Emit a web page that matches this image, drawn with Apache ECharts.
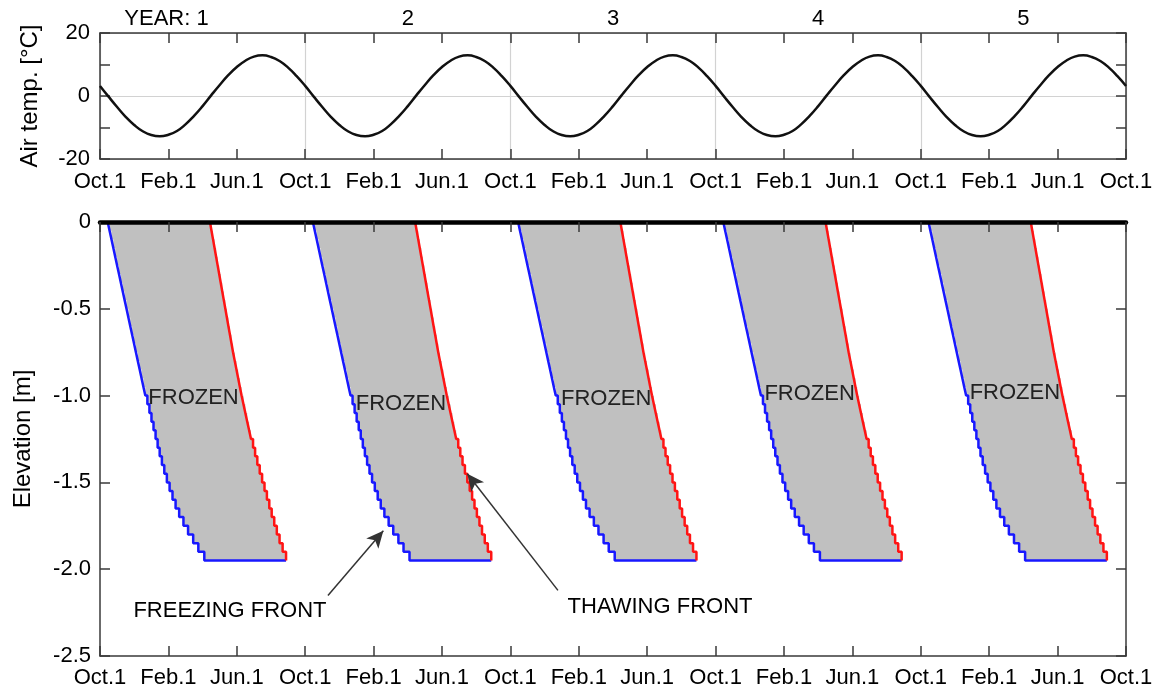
<!DOCTYPE html>
<html>
<head>
<meta charset="utf-8">
<script src="https://cdn.jsdelivr.net/npm/echarts@6/dist/echarts.min.js"></script>
<style>
  html, body { margin: 0; padding: 0; background: #fff; }
  #chart { width: 1156px; height: 693px; }
</style>
</head>
<body>
<div id="chart"></div>
<script>
// Time axis unit: one month, counted from Oct. 1 of year 1.
const years = [1, 2, 3, 4, 5];
const monthTickLabels = ['Oct.1', 'Feb.1', 'Jun.1'];
const elevTickLabels = ['0', '-0.5', '-1.0', '-1.5', '-2.0', '-2.5'];

// Annual air-temperature cycle (°C), every half month from Oct. 1
const tempMonths = [0, 0.5, 1, 1.5, 2, 2.5, 3, 3.5, 4, 4.5, 5, 5.5,
                    6, 6.5, 7, 7.5, 8, 8.5, 9, 9.5, 10, 10.5, 11, 11.5];
const airTemp = [3.2, -0.2, -3.5, -6.6, -9.2, -11.2, -12.4, -12.8, -12.3, -11.1, -9.0, -6.3,
                 -3.2, 0.2, 3.5, 6.6, 9.2, 11.2, 12.5, 12.9, 12.4, 11.1, 9.0, 6.3];

// Soil layer elevations (m)
const layerElev = [0, -0.05, -0.1, -0.15, -0.2, -0.25, -0.3, -0.35, -0.4, -0.45,
                   -0.5, -0.55, -0.6, -0.65, -0.7, -0.75, -0.8, -0.85, -0.9, -0.95,
                   -1.0, -1.05, -1.1, -1.15, -1.2, -1.25, -1.3, -1.35, -1.4, -1.45,
                   -1.5, -1.55, -1.6, -1.65, -1.7, -1.75, -1.8, -1.85, -1.9, -1.95];
// Month (within each year) at which the freezing front reaches each layer
const freezeMonth = [0.45, 0.56, 0.67, 0.78, 0.89, 1.00, 1.11, 1.22, 1.33, 1.44,
                     1.55, 1.66, 1.77, 1.88, 1.99, 2.10, 2.21, 2.32, 2.43, 2.54,
                     2.65, 2.77, 2.89, 3.01, 3.13, 3.25, 3.37, 3.49, 3.62, 3.76,
                     3.91, 4.07, 4.24, 4.42, 4.63, 4.88, 5.15, 5.45, 5.75, 6.10];
// Month (within each year) at which the thawing front reaches each layer
const thawMonth = [6.43, 6.52, 6.61, 6.70, 6.79, 6.88, 6.97, 7.06, 7.15, 7.24,
                   7.33, 7.42, 7.51, 7.60, 7.69, 7.78, 7.88, 7.98, 8.08, 8.18,
                   8.28, 8.39, 8.50, 8.61, 8.72, 8.83, 8.95, 9.07, 9.20, 9.34,
                   9.48, 9.62, 9.76, 9.90, 10.04, 10.19, 10.34, 10.50, 10.68, 10.88];

const FONT = "'Liberation Sans', Arial, Helvetica, sans-serif";
const TEXT = '#000';
const FRAME = '#3a3a3a';
const totalMonths = 12 * years.length;

// Air temperature series over all years
const tempData = [];
years.forEach((y, k) => {
  tempMonths.forEach((m, i) => tempData.push([12 * k + m, airTemp[i]]));
});
tempData.push([totalMonths, airTemp[0]]);

function frontPoints(times, k) {
  return times.map((t, i) => [12 * k + t, layerElev[i]]);
}

const monthLabel = v => monthTickLabels[Math.round(v / 4) % 3];
const tickStyle = { show: true, inside: true, length: 10, lineStyle: { color: FRAME, width: 1.5 } };
const frameLine = { show: true, onZero: false, lineStyle: { color: FRAME, width: 1.5 } };
const labelFont = { fontSize: 22, fontFamily: FONT, color: TEXT };

function timeAxis(gridIndex, position, extra) {
  return Object.assign({
    type: 'value', gridIndex, position, min: 0, max: totalMonths, interval: 4,
    axisLine: frameLine, axisTick: tickStyle, splitLine: { show: false },
    axisLabel: { show: false }
  }, extra);
}

const xAxis = [
  // 0: air temperature, bottom
  timeAxis(0, 'bottom', { axisLabel: Object.assign({ show: true, margin: 12, formatter: monthLabel }, labelFont) }),
  // 1: air temperature, top frame
  timeAxis(0, 'top', {}),
  // 2: year boundaries grid
  timeAxis(0, 'bottom', { interval: 12, axisLine: { show: false }, axisTick: { show: false },
    splitLine: { show: true, lineStyle: { color: '#d2d2d2', width: 1.2 } } }),
  // 3: year numbers above the top panel
  timeAxis(0, 'top', { interval: 6, axisLine: { show: false }, axisTick: { show: false },
    axisLabel: Object.assign({
      show: true, margin: 3,
      formatter: v => {
        const k = (v - 6) / 12;
        if (!Number.isInteger(k) || k < 0 || k >= years.length) return '';
        return k === 0 ? '{t|YEAR: ' + years[0] + '}{h|YEAR: }' : '{t|' + years[k] + '}';
      },
      rich: { t: labelFont, h: Object.assign({}, labelFont, { color: 'rgba(0,0,0,0)' }) }
    }, labelFont) }),
  // 4: elevation panel, bottom
  timeAxis(1, 'bottom', { axisLabel: Object.assign({ show: true, margin: 11, formatter: monthLabel }, labelFont) }),
  // 5: elevation panel, ground surface
  timeAxis(1, 'top', { z: 10, axisLine: { show: true, onZero: false, lineStyle: { color: '#000', width: 4.5 } } })
];

const yAxis = [
  { type: 'value', gridIndex: 0, position: 'left', min: -20, max: 20, interval: 10,
    axisLine: frameLine, axisTick: tickStyle, splitLine: { show: false },
    axisLabel: Object.assign({ margin: 10, formatter: v => (v % 20 === 0 ? String(v) : '') }, labelFont),
    name: 'Air temp. [°C]', nameLocation: 'middle', nameGap: 58,
    nameTextStyle: { fontSize: 24, fontFamily: FONT, color: TEXT } },
  { type: 'value', gridIndex: 0, position: 'right', min: -20, max: 20, interval: 10,
    axisLine: frameLine, axisTick: tickStyle, splitLine: { show: false }, axisLabel: { show: false } },
  { type: 'value', gridIndex: 0, position: 'left', min: -20, max: 20, interval: 20,
    axisLine: { show: false }, axisTick: { show: false }, axisLabel: { show: false },
    splitLine: { show: true, lineStyle: { color: '#d2d2d2', width: 1.2 } } },
  { type: 'value', gridIndex: 1, position: 'left', min: -2.5, max: 0, interval: 0.5,
    axisLine: frameLine, axisTick: tickStyle, splitLine: { show: false },
    axisLabel: Object.assign({ margin: 9, formatter: v => elevTickLabels[Math.round(-v / 0.5)] }, labelFont),
    name: 'Elevation [m]', nameLocation: 'middle', nameGap: 65,
    nameTextStyle: { fontSize: 24, fontFamily: FONT, color: TEXT } },
  { type: 'value', gridIndex: 1, position: 'right', min: -2.5, max: 0, interval: 0.5,
    axisLine: frameLine, axisTick: tickStyle, splitLine: { show: false }, axisLabel: { show: false } }
];

const series = [];

series.push({
  name: 'Air temperature', type: 'line', xAxisIndex: 0, yAxisIndex: 0,
  data: tempData, smooth: true, showSymbol: false, z: 3,
  lineStyle: { color: '#111', width: 2.5 }
});

// Frozen zone between the two fronts
series.push({
  name: 'Frozen', type: 'custom', xAxisIndex: 4, yAxisIndex: 3, z: 1,
  data: years.map((y, k) => [k, 0]),
  renderItem: (params, api) => {
    const off = 12 * api.value(0);
    const n = layerElev.length;
    const pts = [];
    for (let i = 0; i < n; i++) {
      if (i > 0) pts.push(api.coord([off + freezeMonth[i], layerElev[i - 1]]));
      pts.push(api.coord([off + freezeMonth[i], layerElev[i]]));
    }
    for (let i = n - 1; i >= 0; i--) {
      pts.push(api.coord([off + thawMonth[i], layerElev[i]]));
      if (i > 0) pts.push(api.coord([off + thawMonth[i], layerElev[i - 1]]));
    }
    return { type: 'polygon', shape: { points: pts }, style: { fill: '#c0c0c0' } };
  }
});

years.forEach((y, k) => {
  const lastThaw = 12 * k + thawMonth[thawMonth.length - 1];
  series.push({
    name: 'Freezing front ' + y, type: 'line', xAxisIndex: 4, yAxisIndex: 3, z: 3,
    data: frontPoints(freezeMonth, k).concat([[lastThaw, layerElev[layerElev.length - 1]]]),
    step: 'end', showSymbol: false, lineStyle: { color: '#1818ff', width: 2.5 }
  });
  series.push({
    name: 'Thawing front ' + y, type: 'line', xAxisIndex: 4, yAxisIndex: 3, z: 4,
    data: frontPoints(thawMonth, k),
    step: 'end', showSymbol: false, lineStyle: { color: '#ff1414', width: 2.5 }
  });
});

// Pointer arrows for the fronts
series[2].markLine = {
  silent: true, animation: false, symbolSize: [12, 17],
  label: { show: false },
  lineStyle: { color: '#333', width: 1.5, type: 'solid' },
  emphasis: { disabled: true },
  data: [
    [{ coord: [13.33, -2.151], symbol: 'none' }, { coord: [16.57, -1.778], symbol: 'arrow', itemStyle: { color: '#000' } }],
    [{ coord: [26.78, -2.122], symbol: 'none' }, { coord: [21.48, -1.450], symbol: 'arrow', itemStyle: { color: '#000' } }]
  ]
};

// Text annotations inside the elevation panel
const notes = [
  { text: 'FROZEN', at: [5.47, -1.012], color: '#222' },
  { text: 'FROZEN', at: [17.6, -1.05], color: '#222' },
  { text: 'FROZEN', at: [29.6, -1.02], color: '#222' },
  { text: 'FROZEN', at: [41.5, -0.99], color: '#222' },
  { text: 'FROZEN', at: [53.5, -0.986], color: '#222' },
  { text: 'FREEZING FRONT', at: [7.6, -2.243], color: '#000' },
  { text: 'THAWING FRONT', at: [32.75, -2.215], color: '#000' }
];
series.push({
  name: 'Notes', type: 'custom', xAxisIndex: 4, yAxisIndex: 3, z: 6, silent: true,
  data: notes.map((n, i) => [n.at[0], n.at[1], i]),
  renderItem: (params, api) => {
    const note = notes[api.value(2)];
    const p = api.coord([api.value(0), api.value(1)]);
    return { type: 'text', x: p[0], y: p[1],
      style: { text: note.text, fill: note.color, font: '22px ' + FONT, align: 'center', verticalAlign: 'middle' } };
  }
});

const chart = echarts.init(document.getElementById('chart'), null, { renderer: 'canvas' });
chart.setOption({
  animation: false,
  backgroundColor: '#fff',
  grid: [
    { left: 100, right: 30, top: 33, height: 126, containLabel: false, outerBoundsMode: 'none' },
    { left: 100, right: 30, top: 222, height: 434, containLabel: false, outerBoundsMode: 'none' }
  ],
  xAxis, yAxis, series
});
</script>
</body>
</html>
